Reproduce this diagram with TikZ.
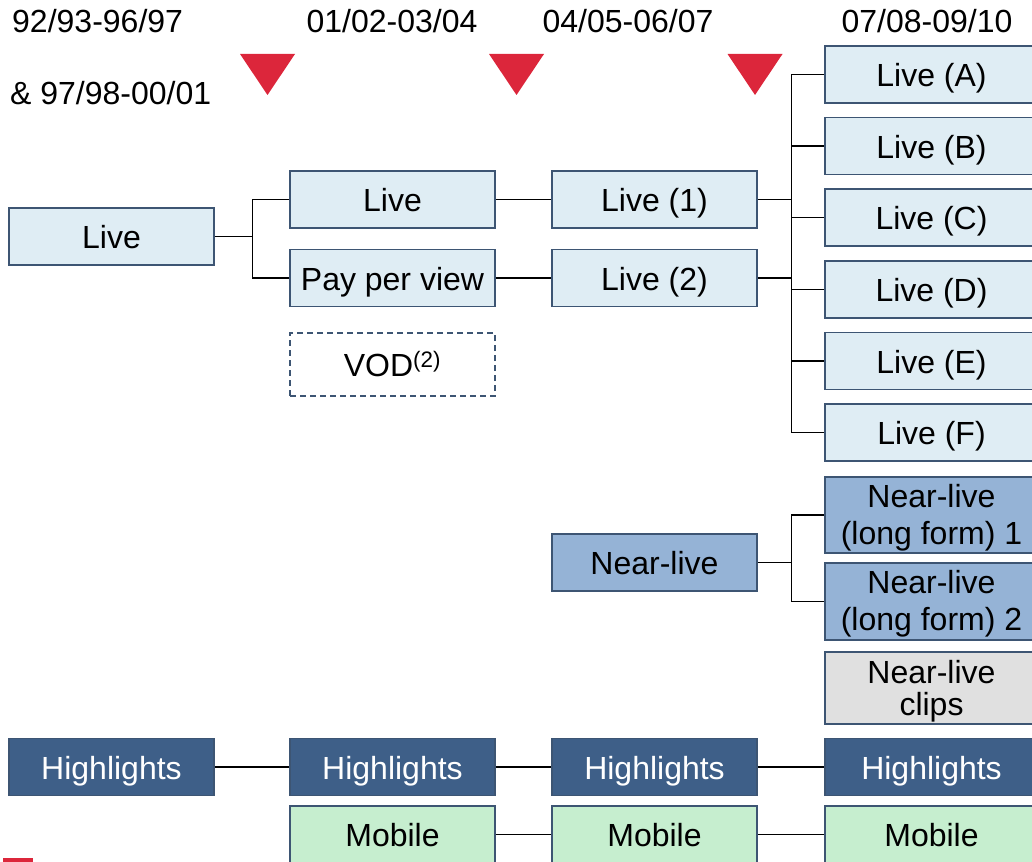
\documentclass[tikz,border=0pt]{standalone}
\usepackage{fontspec}
\setmainfont{Liberation Sans}
\usetikzlibrary{calc,positioning}
\definecolor{boxline}{HTML}{3D5573}
\definecolor{livefill}{HTML}{DFEDF4}
\definecolor{nearfill}{HTML}{95B3D6}
\definecolor{hlfill}{HTML}{3E5F88}
\definecolor{mobfill}{HTML}{C6EECF}
\definecolor{clipfill}{HTML}{E0E0E0}
\definecolor{marker}{HTML}{DC263B}
\tikzset{%
    box/.style={%
        rectangle, minimum width=205pt, minimum height=57pt, inner sep=0pt, align=center, draw=boxline, line width=1.5pt,
        text height=27pt, text depth=2.6pt, font=\fontsize{32}{37}\selectfont
    },
    wide/.style={%
        minimum width=213pt
    },
    live_box/.style={%
        box, fill=livefill
    },
    near_box/.style={%
        box, fill=nearfill
    },
    clip_box/.style={%
        box, fill=clipfill
    },
    hl_box/.style={%
        box, fill=hlfill, text=white
    },
    mobile_box/.style={%
        box, fill=mobfill
    },
    vod_box/.style={%
        box, fill=none, dash pattern=on 6pt off 4pt, minimum height=63pt
    },
    period/.style={%
        anchor=base, inner sep=0pt, font=\fontsize{32}{37}\selectfont
    },
    link/.style={%
        draw=black, line width=1.3pt
    },
}

\begin{document}
\begin{tikzpicture}[x=1pt,y=-1pt]
    \useasboundingbox (0,0) rectangle (1032,861);

    % periods
    \node[period,anchor=base west] (p0) at (12,33) {92/93-96/97};
    \node[period,anchor=base west] (p0b) at (10,105) {\& 97/98-00/01};
    \node[period] (p1) at (392,33) {01/02-03/04};
    \node[period] (p2) at (628,33) {04/05-06/07};
    \node[period] (p3) at (927,33) {07/08-09/10};

    \foreach \x in {267.5,516.5,755}
        \fill[marker] (\x-27.5,54) -- (\x+27.5,54) -- (\x,95) -- cycle;
    \fill[marker] (3,858) rectangle (33,863);

    % live
    \node[live_box] (live0) at (111.5,236.5) {Live};
    \node[live_box] (live_c2) at (392.5,199.5) {Live};
    \node[live_box] (ppv) at (392.5,278) {Pay per view};
    \node[vod_box] (vod) at (392.5,364.5) {VOD\textsuperscript{(2)}};
    \node[live_box] (live1) at (654.5,199.5) {Live (1)};
    \node[live_box] (live2) at (654.5,278) {Live (2)};

    \foreach \l [count=\i from 0] in {A,B,C,D,E,F}
        \node[live_box,wide] (live_\l) at (931.5,74.5+71.6*\i) {Live (\l)};

    \draw[link] (live0.east) -- +(38,0) coordinate (fork0);
    \draw[link] (fork0) |- (live_c2.west);
    \draw[link] (fork0) |- (ppv.west);
    \draw[link] (live_c2) -- (live1);
    \draw[link] (ppv) -- (live2);
    \draw[link] (live1.east) -- +(34,0) coordinate (fork1);
    \draw[link] (live2.east) -| (fork1);
    \foreach \l in {A,B,C,D,E,F}
        \draw[link] (fork1) |- (live_\l.west);

    % near-live
    \node[near_box] (nearlive) at (654.5,562.5) {Near-live};
    \node[near_box,wide,minimum height=76pt,text height=64pt,text depth=6pt] (nl1) at (931.5,515) {Near-live\\(long form) 1};
    \node[near_box,wide,minimum height=77pt,text height=64pt,text depth=6pt] (nl2) at (931.5,601.5) {Near-live\\(long form) 2};
    \node[clip_box,wide,minimum height=72pt,text height=59pt,text depth=5pt,font=\fontsize{32}{32}\selectfont] (clips) at (931.5,688) {Near-live\\clips};

    \draw[link] (nearlive.east) -- +(34,0) coordinate (fork2);
    \draw[link] (fork2) |- (nl1.west);
    \draw[link] (fork2) |- (nl2.west);

    % highlights and mobile
    \node[hl_box] (hl0) at (111.5,767) {Highlights};
    \node[hl_box] (hl1) at (392.5,767) {Highlights};
    \node[hl_box] (hl2) at (654.5,767) {Highlights};
    \node[hl_box,wide] (hl3) at (931.5,767) {Highlights};
    \node[mobile_box] (mob1) at (392.5,834.5) {Mobile};
    \node[mobile_box] (mob2) at (654.5,834.5) {Mobile};
    \node[mobile_box,wide] (mob3) at (931.5,834.5) {Mobile};

    \draw[link] (hl0) -- (hl1);
    \draw[link] (hl1) -- (hl2);
    \draw[link] (hl2) -- (hl3);
    \draw[link] (mob1) -- (mob2);
    \draw[link] (mob2) -- (mob3);

\end{tikzpicture}
\end{document}
